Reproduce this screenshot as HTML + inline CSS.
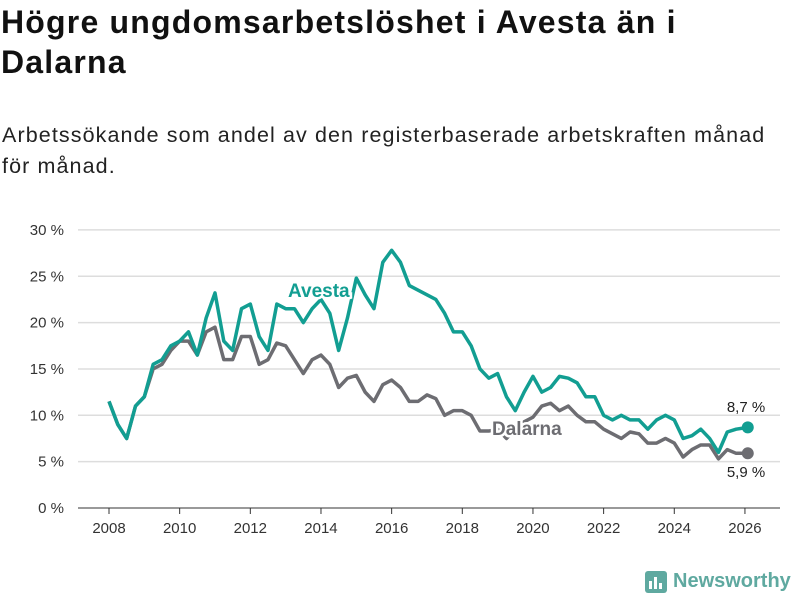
<!DOCTYPE html>
<html><head><meta charset="utf-8"><style>
body{margin:0;width:800px;height:600px;background:#fff;font-family:"Liberation Sans","DejaVu Sans",sans-serif;overflow:hidden;position:relative}
h1{position:absolute;left:1px;top:2px;margin:0;font-size:32px;line-height:40px;font-weight:bold;color:#111;white-space:nowrap;letter-spacing:1.2px}
p{position:absolute;left:2px;top:120px;margin:0;font-size:21.5px;line-height:31px;color:#222;white-space:nowrap;letter-spacing:1.1px}
svg{position:absolute;left:0;top:0}
</style></head><body>
<h1>Högre ungdomsarbetslöshet i Avesta än i<br>Dalarna</h1>
<p>Arbetssökande som andel av den registerbaserade arbetskraften månad<br>för månad.</p>
<svg id="c" width="800" height="600"></svg>
<script>
const years=[2008,2008.25,2008.5,2008.75,2009,2009.25,2009.5,2009.75,2010,2010.25,2010.5,2010.75,2011,2011.25,2011.5,2011.75,2012,2012.25,2012.5,2012.75,2013,2013.25,2013.5,2013.75,2014,2014.25,2014.5,2014.75,2015,2015.25,2015.5,2015.75,2016,2016.25,2016.5,2016.75,2017,2017.25,2017.5,2017.75,2018,2018.25,2018.5,2018.75,2019,2019.25,2019.5,2019.75,2020,2020.25,2020.5,2020.75,2021,2021.25,2021.5,2021.75,2022,2022.25,2022.5,2022.75,2023,2023.25,2023.5,2023.75,2024,2024.25,2024.5,2024.75,2025,2025.25,2025.5,2025.75,2026.08];
const avesta=[11.5,9,7.5,11,12,15.5,16,17.5,18,19,16.5,20.5,23.2,18,17,21.5,22,18.5,17,22,21.5,21.5,20,21.5,22.5,21,17,20.5,24.8,23,21.5,26.5,27.8,26.5,24,23.5,23,22.5,21,19,19,17.5,15,14,14.5,12,10.5,12.5,14.2,12.5,13,14.2,14,13.5,12,12,10,9.5,10,9.5,9.5,8.5,9.5,10,9.5,7.5,7.8,8.5,7.5,6,8.2,8.5,8.7];
const dalarna=[11.5,9,7.5,11,12,15,15.5,17,18,18,16.5,19,19.5,16,16,18.5,18.5,15.5,16,17.8,17.5,16,14.5,16,16.5,15.5,13,14,14.3,12.5,11.5,13.3,13.8,13,11.5,11.5,12.2,11.8,10,10.5,10.5,10,8.3,8.3,8.5,7.5,8.5,9.3,9.8,11,11.3,10.5,11,10,9.3,9.3,8.5,8,7.5,8.2,8,7,7,7.5,7,5.5,6.3,6.8,6.8,5.3,6.3,5.9,5.9];
const yTicks=[0,5,10,15,20,25,30];
const xTicks=[2008,2010,2012,2014,2016,2018,2020,2022,2024,2026];
const X=y=>109+(y-2008)*35.33, Y=v=>508-v*9.27;
const svg=document.getElementById('c'),NS='http://www.w3.org/2000/svg';
function mk(t,a,txt){const e=document.createElementNS(NS,t);for(const k in a)e.setAttribute(k,a[k]);if(txt!=null)e.textContent=txt;svg.appendChild(e);return e;}
yTicks.forEach(v=>{
 const l=mk('line',{x1:78,x2:780,y1:Y(v),y2:Y(v),stroke:v?'#ddd':'#333','stroke-width':v?1.5:1});
 
 
 const t=mk('text',{x:64,y:Y(v)+5,'text-anchor':'end','font-size':15,fill:'#333'},v+' %');
 
 
});
xTicks.forEach(y=>{
 const l=mk('line',{x1:X(y),x2:X(y),y1:508,y2:514,stroke:'#333'});
 
 
 const t=mk('text',{x:X(y),y:533,'text-anchor':'middle','font-size':15,fill:'#333'},y);
 
 
});
function line(d,col,name){
 const p=mk('polyline',{points:d.map((v,i)=>X(years[i])+','+Y(v)).join(' '),fill:'none',stroke:col,'stroke-width':3.5,'stroke-linejoin':'round'});
 
 
 const n=d.length-1;
 const c=mk('circle',{cx:X(years[n]),cy:Y(d[n]),r:6,fill:col});
 
 
}
line(dalarna,'#6d6d72','dalarna');
line(avesta,'#129e92','avesta');
const la=mk('text',{x:288,y:297,'font-size':19,'font-weight':'bold',fill:'#129e92',stroke:'#fff','stroke-width':5,'paint-order':'stroke'},'Avesta');


const ld=mk('text',{x:492,y:435,'font-size':19,'font-weight':'bold',fill:'#6d6d72',stroke:'#fff','stroke-width':5,'paint-order':'stroke'},'Dalarna');


const va=mk('text',{x:746,y:412,'text-anchor':'middle','font-size':15,fill:'#222'},String(avesta[avesta.length-1]).replace('.',',')+' %');


const vd=mk('text',{x:746,y:477,'text-anchor':'middle','font-size':15,fill:'#222'},String(dalarna[dalarna.length-1]).replace('.',',')+' %');


</script>
<div style="position:absolute;left:645px;top:570px;display:flex;align-items:center">
<div style="width:22px;height:22px;background:#5fa9a0;border-radius:3px;position:relative;margin-right:6px">
<div style="position:absolute;left:4px;bottom:4px;width:3px;height:8px;background:#fff"></div>
<div style="position:absolute;left:9px;bottom:4px;width:3px;height:12px;background:#fff"></div>
<div style="position:absolute;left:14px;bottom:4px;width:3px;height:6px;background:#fff"></div></div>
<span style="font-size:20px;font-weight:bold;color:#5fa9a0">Newsworthy</span></div>
</body></html>
